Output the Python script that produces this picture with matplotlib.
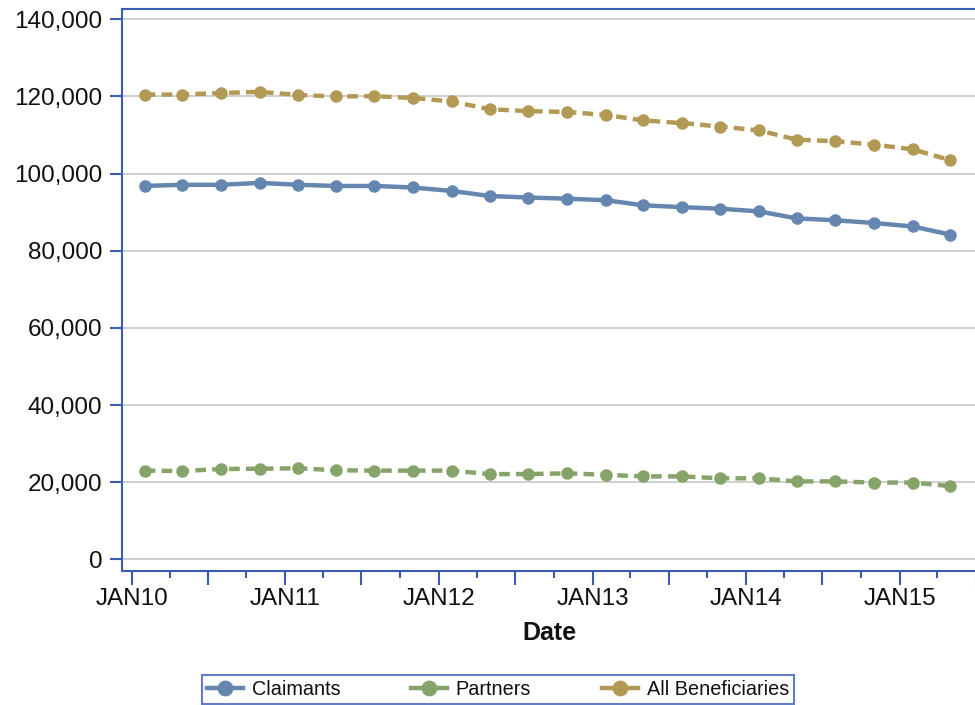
import matplotlib
matplotlib.use("Agg")
import matplotlib.pyplot as plt
import matplotlib.dates as mdates
from matplotlib.ticker import FuncFormatter, MultipleLocator
import datetime as dt

plt.rcParams['font.family'] = ['Liberation Sans', 'DejaVu Sans']

dates = [dt.date(y, m, 1) for y in range(2010, 2016) for m in (2, 5, 8, 11)][:22]

claimants = [96.8, 97.1, 97.1, 97.6, 97.1, 96.8, 96.8, 96.4, 95.5, 94.2, 93.8,
             93.5, 93.1, 91.8, 91.3, 90.9, 90.2, 88.4, 87.9, 87.2, 86.3, 84.2]
partners = [23.0, 22.9, 23.4, 23.5, 23.6, 23.1, 23.0, 23.0, 23.0, 22.1, 22.1,
            22.3, 21.9, 21.5, 21.5, 21.0, 21.0, 20.2, 20.2, 19.9, 19.9, 19.0]
all_benef = [120.5, 120.5, 120.9, 121.2, 120.4, 120.0, 120.1, 119.6, 118.7, 116.7, 116.2,
             116.0, 115.2, 113.8, 113.1, 112.2, 111.2, 108.8, 108.4, 107.5, 106.3, 103.5]
claimants = [v * 1000 for v in claimants]
partners = [v * 1000 for v in partners]
all_benef = [v * 1000 for v in all_benef]

series_names = ["Claimants", "Partners", "All Beneficiaries"]
colors = ["#6586AF", "#86A46A", "#B29A55"]
axis_blue = "#3A5CB5"

W, H = 975, 705
fig = plt.figure(figsize=(W / 100, H / 100), dpi=100)
ax = fig.add_axes([122 / W, 1 - 570.7 / H, (977 - 122) / W, (570.7 - 9.3) / H])

dash = (0, (2.4, 1.4))
ax.plot(dates, claimants, color=colors[0], lw=3.2, marker='o', ms=8,
        label=series_names[0], zorder=3)
ax.plot(dates, partners, color=colors[1], lw=3.2, ls=dash, marker='o', ms=8,
        label=series_names[1], zorder=3)
ax.plot(dates, all_benef, color=colors[2], lw=3.2, ls=dash, marker='o', ms=8,
        label=series_names[2], zorder=3)

ax.set_xlim(dt.date(2009, 12, 9), dt.date(2015, 7, 4))
ax.set_ylim(-2950, 142600)

ax.yaxis.set_major_locator(MultipleLocator(20000))
ax.yaxis.set_major_formatter(FuncFormatter(lambda v, p: f"{int(round(v)):,}"))
ax.grid(axis='y', color='#CFCFCF', lw=1.4, zorder=0)
ax.set_axisbelow(True)

ax.xaxis.set_major_locator(mdates.MonthLocator(bymonth=[1, 7]))
ax.xaxis.set_minor_locator(mdates.MonthLocator(bymonth=[4, 10]))
ax.xaxis.set_major_formatter(FuncFormatter(
    lambda v, p: (mdates.num2date(v).strftime('JAN%y') if mdates.num2date(v).month == 1 else '')))

ax.tick_params(axis='y', which='major', direction='out', length=9, width=1.5,
               color=axis_blue, labelsize=17.5, pad=5, labelcolor='#111111')
ax.tick_params(axis='x', which='major', direction='out', length=10, width=1.5,
               color=axis_blue, labelsize=17.5, pad=2.5, labelcolor='#111111')
ax.tick_params(axis='x', which='minor', direction='out', length=5, width=1.5,
               color=axis_blue)

for s in ax.spines.values():
    s.set_color(axis_blue)
    s.set_linewidth(1.5)

ax.set_xlabel("Date", fontsize=18, fontweight='bold', labelpad=8, color='#111111')

leg = fig.legend(loc='lower left', bbox_to_anchor=(202 / W, 1 / H, (794 - 202) / W, 33 / H),
                 mode='expand', ncol=3, frameon=True, fancybox=False, fontsize=14.3,
                 handlelength=1.8, borderaxespad=0, borderpad=0.25, handletextpad=0.45,
                 columnspacing=3.0, markerscale=1.3)
leg.get_frame().set_edgecolor(axis_blue)
leg.get_frame().set_linewidth(1.5)
for t in leg.get_texts():
    t.set_color('#111111')
for h in leg.legend_handles:
    h.set_linestyle('-')

fig.savefig("out.png", dpi=100)
